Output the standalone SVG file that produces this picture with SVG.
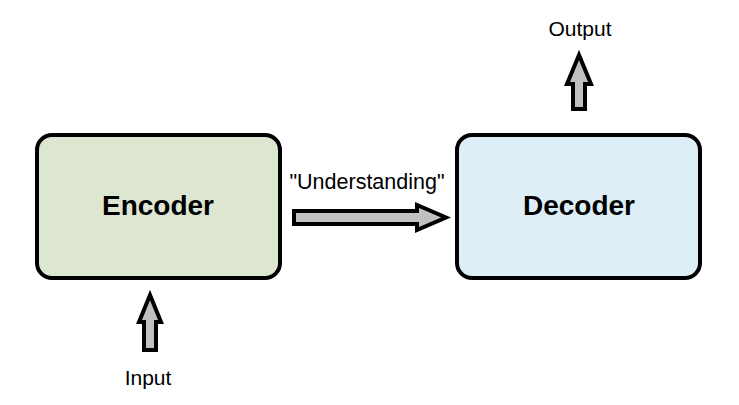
<svg xmlns="http://www.w3.org/2000/svg" width="739" height="405" viewBox="0 0 739 405">
<style>
.box{stroke:#000;stroke-width:4}
.arr{fill:#c0c0c0;stroke:#000;stroke-width:4;stroke-linejoin:miter}
.title{font-family:"Liberation Sans",Arial,sans-serif;font-weight:bold;font-size:28px;text-anchor:middle;fill:#000}
.lbl{font-family:"Liberation Sans",Arial,sans-serif;font-size:21px;text-anchor:middle;fill:#000}
</style>
<rect width="739" height="405" fill="#fff"/>
<g id="encoder">
<rect class="box" x="37" y="135" width="243" height="143" rx="15" fill="#dce6d1"/>
<text class="title" x="158" y="215">Encoder</text>
</g>
<g id="decoder">
<rect class="box" x="457" y="135" width="243" height="143" rx="15" fill="#ddeef6"/>
<text class="title" x="579" y="215">Decoder</text>
</g>
<g id="input">
<text class="lbl" x="148" y="385">Input</text>
</g>
<g id="output">
<text class="lbl" x="580" y="36">Output</text>
</g>
<g id="connectors">
<path class="arr" d="M294 211 H417 V205 L446 217.5 L417 230 V224 H294 Z"/>
<text class="lbl" x="367" y="189" style="font-size:21.5px">"Understanding"</text>
<path class="arr" d="M150 295 L161 322 H156 V350 H144 V322 H139 Z"/>
<path class="arr" d="M579 55 L591 84 H585 V109 H573 V84 H567 Z"/>
</g>
</svg>
